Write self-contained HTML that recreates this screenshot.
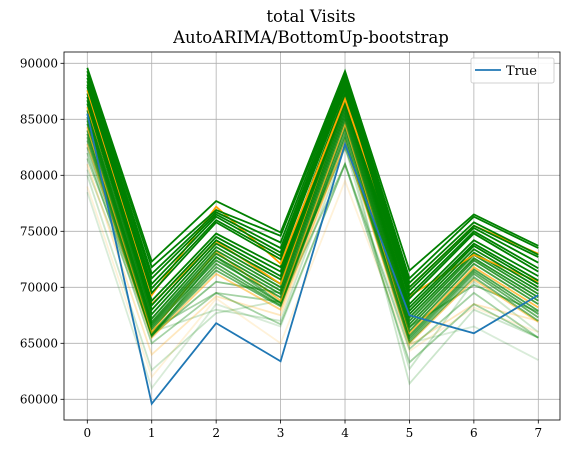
<!DOCTYPE html>
<html><head><meta charset="utf-8"><style>
body{margin:0;background:#fff;}
svg text{font-family:"DejaVu Serif","Liberation Serif",serif;}
</style></head><body>
<svg id="chart" width="570" height="454" xmlns="http://www.w3.org/2000/svg">
<rect width="570" height="454" fill="#fff"/>
<text x="311" y="22" font-size="16.5" text-anchor="middle">total Visits</text>
<text x="311" y="43" font-size="16.5" text-anchor="middle">AutoARIMA/BottomUp-bootstrap</text>
<g id="grid"></g><g id="series"></g><g id="axes"></g>
<g>
<rect x="471" y="58" width="83" height="25" rx="2" fill="#fff" stroke="#ccc" opacity="0.9"/>
<line x1="475" y1="70" x2="501" y2="70" stroke="#1f77b4" stroke-width="1.8"/>
<text x="506" y="75" font-size="13">True</text>
</g>
</svg>
<script>
const xTicks=[0,1,2,3,4,5,6,7];
const yTicks=[60000,65000,70000,75000,80000,85000,90000];
const trueValues=[85500,59600,66800,63400,82800,67500,65900,69300];
const sampleColors=['g','g','g','g','g','g','g','o','g','g','g','g','o','g','g','g','g','g','o','g','g','g','g','o','g','g','g','o','g','g','o','g'];
const sampleAlpha=[1,1,1,1,1,1,1,1,1,1,1,0.95,0.9,0.9,0.85,0.85,0.8,0.75,0.7,0.7,0.65,0.6,0.55,0.5,0.45,0.35,0.35,0.25,0.2,0.2,0.15,0.15];
const samples=[
[89600,72300,77700,74900,89300,71500,76500,73700],
[89300,71800,76900,74600,89000,70800,76300,73500],
[89000,71200,76700,74000,88800,70400,75800,72900],
[88700,70800,76500,73500,88500,70000,75500,72700],
[88400,70300,76300,73100,88200,69700,75300,72200],
[88100,69900,76000,72800,87900,69300,75000,71700],
[87900,69500,75800,72500,87700,69000,74800,71400],
[87600,69300,77200,72100,86800,70000,75500,73000],
[87300,68800,74800,71800,87300,68500,74200,71000],
[87000,68400,74500,71400,87000,68200,73900,70600],
[86700,68000,74200,71000,86700,67900,73700,70300],
[86400,67600,73900,70700,86400,67600,73400,70000],
[86100,68500,74100,70300,86600,69200,72900,70500],
[85800,67200,73600,70300,86100,67300,73100,69700],
[85500,66900,73300,70000,85800,67000,72900,69400],
[85200,66700,73000,69700,85500,66700,72600,69100],
[84900,66500,72700,69400,85200,66400,72400,68800],
[84600,66300,72400,69100,84900,66100,72100,68500],
[84300,66000,73200,68800,84600,65900,71800,68200],
[84000,65900,72100,68600,84300,65700,71600,67900],
[83700,65800,71800,68400,84000,65500,71400,67600],
[83400,65700,71500,68300,83600,65300,71200,67300],
[83100,65600,72700,68600,83300,65100,70900,67000],
[82800,65500,71200,68000,83000,65000,70700,66900],
[82500,65700,70500,69500,82500,66500,70200,67800],
[82000,65000,69500,68700,81000,63300,68500,65500],
[81500,66200,69500,66700,81000,64500,69500,65500],
[81000,64000,69200,67500,83000,64800,68500,67000],
[80500,66000,68000,67000,82500,62700,70500,66000],
[80000,62600,67700,68800,83500,61400,68000,65500],
[79000,62000,69000,65000,79500,64300,68200,66000],
[78500,61000,68500,66500,81000,65000,66500,63500]
];
const L=64,R=560,T=52,B=420;
const x=i=>87.3+i*(538.3-87.3)/7;
const y=v=>63.3+(90000-v)*(399.3-63.3)/30000;
const NS='http://www.w3.org/2000/svg';
const mk=(t,a,p)=>{const e=document.createElementNS(NS,t);for(const k in a)e.setAttribute(k,a[k]);p.appendChild(e);return e;};
const grid=document.getElementById('grid'),ser=document.getElementById('series'),axes=document.getElementById('axes');
xTicks.forEach(t=>{const l=mk('line',{x1:x(t),x2:x(t),y1:T,y2:B,stroke:'#b0b0b0','stroke-width':0.8},grid);

mk('line',{x1:x(t),x2:x(t),y1:B,y2:B+3.5,stroke:'#000','stroke-width':0.8},axes);
const tx=mk('text',{x:x(t),y:B+17,'font-size':12,'text-anchor':'middle'},axes);tx.textContent=t;
});
yTicks.forEach(t=>{const l=mk('line',{x1:L,x2:R,y1:y(t),y2:y(t),stroke:'#b0b0b0','stroke-width':0.8},grid);

mk('line',{x1:L-3.5,x2:L,y1:y(t),y2:y(t),stroke:'#000','stroke-width':0.8},axes);
const tx=mk('text',{x:L-6,y:y(t)+4,'font-size':12,'text-anchor':'end'},axes);tx.textContent=t;
});
const pts=a=>a.map((v,i)=>x(i)+','+y(v)).join(' ');
for(let k=samples.length-1;k>=0;k--){const p=mk('polyline',{points:pts(samples[k]),fill:'none',stroke:sampleColors[k]==='g'?'#008000':'#ffa500','stroke-opacity':sampleAlpha[k],'stroke-width':1.8},ser);
}
const tl=mk('polyline',{points:pts(trueValues),fill:'none',stroke:'#1f77b4','stroke-width':1.8},ser);

const fr=mk('rect',{x:L,y:T,width:R-L,height:B-T,fill:'none',stroke:'#000','stroke-width':0.8},axes);

</script>
</body></html>
